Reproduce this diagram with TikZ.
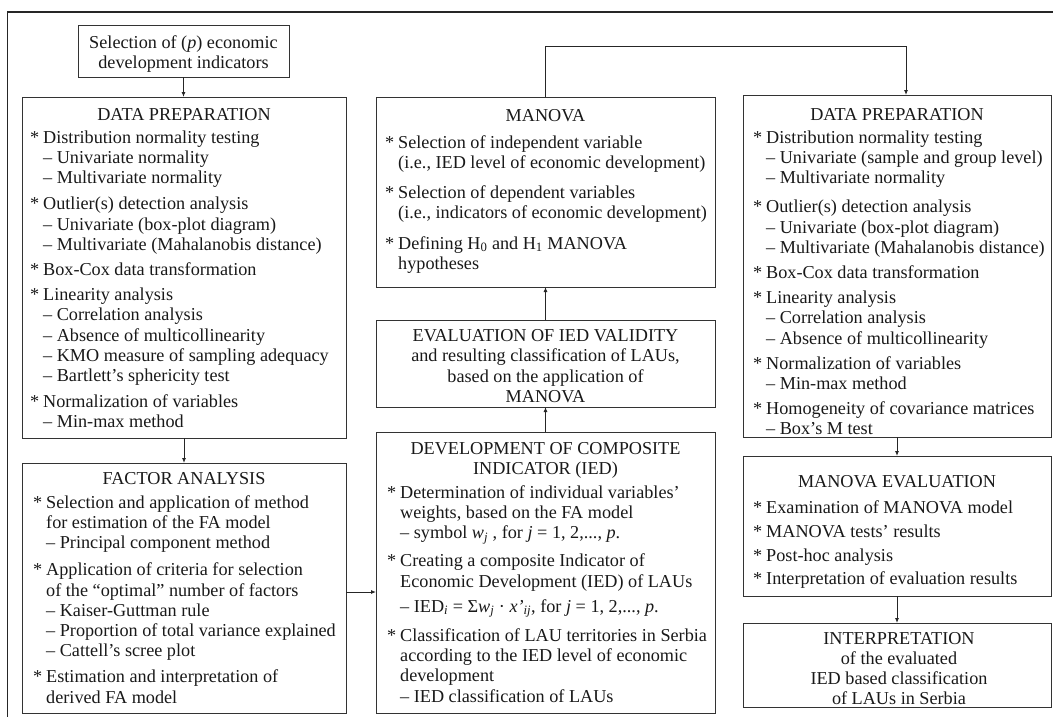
\documentclass[tikz,border=0pt]{standalone}
\usepackage{fontspec}
\setmainfont{Liberation Serif}
\usetikzlibrary{arrows.meta}
\newlength\bw \setlength\bw{13pt}
\newcommand\bul{\makebox[\bw][l]{*}}
\newcommand\ind{\hspace*{\bw}}
\newcommand\fs{\fontsize{18.2}{20.2}\selectfont}
\begin{document}
\begin{tikzpicture}[x=1pt,y=-1pt,
  box/.style={draw=black!80, line width=1pt, anchor=north west, inner sep=0pt, outer sep=0pt},
  txt/.style={anchor=north west, inner sep=0pt, align=left, font=\fs, text=black!90},
  ctxt/.style={anchor=north, inner sep=0pt, align=center, font=\fs, text=black!90},
  ttl/.style={anchor=base, inner sep=0pt, font=\fs, text=black!90},
  arr/.style={draw=black!85, line width=0.9pt, -{Latex[length=5pt,width=4pt]}},
  ln/.style={draw=black!85, line width=0.9pt}]
\useasboundingbox (0,0) rectangle (1053,716);
% outer frame (open beyond the picture)
\draw[line width=1.3pt, black!85] (7.5,740) -- (7.5,12) -- (1080,12);

% boxes
\node[box, minimum width=211pt, minimum height=52pt]  (sel)  at (78,25)   {};
\node[box, minimum width=324pt, minimum height=341pt] (dpl)  at (22,97)   {};
\node[box, minimum width=324pt, minimum height=250pt] (fa)   at (22,463)  {};
\node[box, minimum width=339pt, minimum height=190pt] (man)  at (376,97)  {};
\node[box, minimum width=339pt, minimum height=87pt]  (eval) at (376,320) {};
\node[box, minimum width=339pt, minimum height=281pt] (dev)  at (376,432) {};
\node[box, minimum width=308pt, minimum height=342pt] (dpr)  at (743,95)  {};
\node[box, minimum width=308pt, minimum height=140pt] (mev)  at (743,456) {};
\node[box, minimum width=308pt, minimum height=84pt]  (int)  at (743,623) {};

% selection box text
\node[ctxt] (selt) at (183.5,33.9) {\strut Selection of (\textit{p}) economic\\development indicators};

% left data preparation
\node[ttl] (dplT) at (184,120) {DATA PREPARATION};
\node[txt] (dplB) at (30,128.9) {\strut\bul Distribution normality testing\\
\ind – Univariate normality\\
\ind – Multivariate normality\\[6pt]
\bul Outlier(s) detection analysis\\
\ind – Univariate (box-plot diagram)\\
\ind – Multivariate (Mahalanobis distance)\\[5pt]
\bul Box-Cox data transformation\\[5pt]
\bul Linearity analysis\\
\ind – Correlation analysis\\
\ind – Absence of multicollinearity\\
\ind – KMO measure of sampling adequacy\\
\ind – Bartlett’s sphericity test\\[5.5pt]
\bul Normalization of variables\\
\ind – Min-max method};

% factor analysis
\node[ttl] (faT) at (184,484) {FACTOR ANALYSIS};
\node[txt] (faB) at (33,493.9) {\strut\bul Selection and application of method\\
\ind for estimation of the FA model\\
\ind – Principal component method\\[7pt]
\bul Application of criteria for selection\\
\ind of the “optimal” number of factors\\
\ind – Kaiser-Guttman rule\\
\ind – Proportion of total variance explained\\
\ind – Cattell’s scree plot\\[6pt]
\bul Estimation and interpretation of\\
\ind derived FA model};

% MANOVA (middle)
\node[ttl] (manT) at (545.5,121) {MANOVA};
\node[txt] (manB) at (385,133.9) {\strut\bul Selection of independent variable\\
\ind (i.e., IED level of economic development)\\[10pt]
\bul Selection of dependent variables\\
\ind (i.e., indicators of economic development)\\[10pt]
\bul Defining H\textsubscript{0} and H\textsubscript{1} MANOVA\\
\ind hypotheses};

% evaluation of IED validity
\node[ctxt] (evalT) at (545.5,327.4) {\strut EVALUATION OF IED VALIDITY\\
and resulting classification of LAUs,\\
based on the application of\\
MANOVA};

% development of composite indicator
\node[ctxt] (devT) at (545.5,439.9) {\strut DEVELOPMENT OF COMPOSITE\\INDICATOR (IED)};
\node[txt] (devB) at (387,483.9) {\strut\bul Determination of individual variables’\\
\ind weights, based on the FA model\\
\ind – symbol \textit{w}\textsubscript{\textit{j}} , for \textit{j} = 1, 2,..., \textit{p}.\\[8pt]
\bul Creating a composite Indicator of\\
\ind Economic Development (IED) of LAUs\\[5pt]
\ind – IED\textsubscript{\textit{i}} = Σ\textit{w}\textsubscript{\textit{j}} · \textit{x'}\textsubscript{\textit{ij}}, for \textit{j} = 1, 2,..., \textit{p}.\\[9pt]
\bul Classification of LAU territories in Serbia\\
\ind according to the IED level of economic\\
\ind development\\
\ind – IED classification of LAUs};

% right data preparation
\node[ttl] (dprT) at (897,120) {DATA PREPARATION};
\node[txt] (dprB) at (753,128.9) {\strut\bul Distribution normality testing\\
\ind – Univariate (sample and group level)\\
\ind – Multivariate normality\\[9pt]
\bul Outlier(s) detection analysis\\
\ind – Univariate (box-plot diagram)\\
\ind – Multivariate (Mahalanobis distance)\\[5pt]
\bul Box-Cox data transformation\\[5pt]
\bul Linearity analysis\\
\ind – Correlation analysis\\
\ind – Absence of multicollinearity\\[5pt]
\bul Normalization of variables\\
\ind – Min-max method\\[5pt]
\bul Homogeneity of covariance matrices\\
\ind – Box’s M test};

% MANOVA evaluation
\node[ttl] (mevT) at (897,487) {MANOVA EVALUATION};
\node[txt] (mevB) at (753,498.9) {\strut\bul Examination of MANOVA model\\[4pt]
\bul MANOVA tests’ results\\[4pt]
\bul Post-hoc analysis\\[3pt]
\bul Interpretation of evaluation results};

% interpretation
\node[ctxt] (intT) at (899,629.9) {\strut INTERPRETATION\\
of the evaluated\\
IED based classification\\
of LAUs in Serbia};

% connectors
\coordinate (loopR) at (906,46);
\coordinate (faY) at (0,592);
\draw[arr] (sel.south) -- (sel.south |- dpl.north);
\draw[arr] (dpl.south) -- (fa.north);
\draw[arr] (fa.east |- faY) -- (dev.west |- faY);
\draw[arr] (dev.north) -- (eval.south);
\draw[arr] (eval.north) -- (man.south);
\draw[arr] (man.north) |- (loopR) -- (loopR |- dpr.north);
\draw[arr] (dpr.south) -- (mev.north);
\draw[arr] (mev.south) -- (int.north);
\end{tikzpicture}
\end{document}
